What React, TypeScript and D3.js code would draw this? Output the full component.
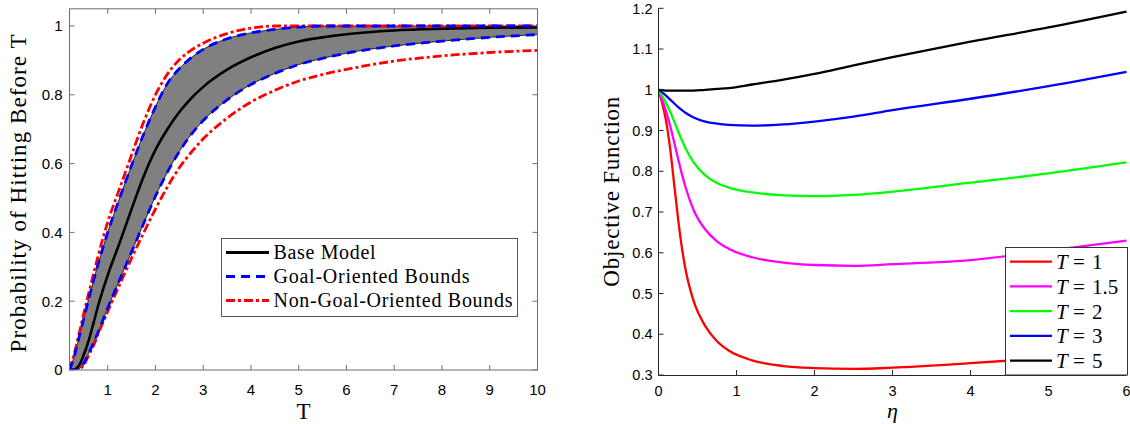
import { useEffect, useRef } from "react";
import * as d3 from "d3";

// ---- left panel: probability of hitting before T ----
const tValues = [0.2, 0.3, 0.4, 0.5, 0.6, 0.7, 0.8, 1, 1.25, 1.5, 1.75, 2, 2.25, 2.5, 2.75, 3, 3.5, 4, 4.5, 5, 5.5, 6, 7, 8, 9, 10];
const baseModel = [0, 0.001, 0.013, 0.045, 0.085, 0.135, 0.187, 0.275, 0.37, 0.468, 0.562, 0.64, 0.7, 0.75, 0.79, 0.823, 0.873, 0.909, 0.936, 0.955, 0.967, 0.976, 0.987, 0.992, 0.995, 0.996];
const upperGoal = [0, 0.04, 0.095, 0.15, 0.205, 0.258, 0.308, 0.4, 0.5, 0.595, 0.685, 0.765, 0.833, 0.876, 0.908, 0.932, 0.963, 0.98, 0.99, 0.997, 1, 1, 1, 1, 1, 1];
const lowerGoal = [0, 0, 0.003, 0.02, 0.048, 0.078, 0.11, 0.18, 0.262, 0.343, 0.425, 0.505, 0.575, 0.635, 0.685, 0.725, 0.785, 0.83, 0.862, 0.888, 0.906, 0.921, 0.942, 0.956, 0.967, 0.975];
const upperNonGoal = [0, 0.048, 0.105, 0.165, 0.222, 0.278, 0.332, 0.43, 0.528, 0.625, 0.72, 0.8, 0.86, 0.902, 0.93, 0.95, 0.978, 0.994, 1, 1, 1, 1, 1, 1, 1, 1];
const lowerNonGoal = [0, 0, 0.002, 0.015, 0.042, 0.07, 0.105, 0.17, 0.248, 0.325, 0.398, 0.468, 0.532, 0.588, 0.633, 0.672, 0.732, 0.779, 0.813, 0.84, 0.859, 0.874, 0.898, 0.913, 0.923, 0.929];
const leftXTicks = [1, 2, 3, 4, 5, 6, 7, 8, 9, 10];
const leftYTicks = [0, 0.2, 0.4, 0.6, 0.8, 1];
const leftLegend = ["Base Model", "Goal-Oriented Bounds", "Non-Goal-Oriented Bounds"];

// ---- right panel: objective function vs eta ----
const etaValues = [0, 0.05, 0.1, 0.15, 0.2, 0.25, 0.3, 0.35, 0.45, 0.6, 0.75, 0.9, 1.2, 1.6, 2, 2.5, 3, 4, 5, 6];
const objT1 = [1, 0.965, 0.92, 0.855, 0.77, 0.685, 0.612, 0.556, 0.482, 0.42, 0.383, 0.36, 0.336, 0.322, 0.317, 0.315, 0.318, 0.329, 0.342, 0.355];
const objT15 = [1, 0.974, 0.945, 0.911, 0.872, 0.832, 0.793, 0.759, 0.705, 0.657, 0.628, 0.61, 0.589, 0.576, 0.57, 0.568, 0.572, 0.582, 0.605, 0.63];
const objT2 = [1, 0.984, 0.966, 0.946, 0.923, 0.899, 0.876, 0.855, 0.822, 0.79, 0.771, 0.76, 0.748, 0.741, 0.739, 0.742, 0.75, 0.772, 0.795, 0.822];
const objT3 = [1, 0.993, 0.985, 0.976, 0.967, 0.958, 0.95, 0.943, 0.932, 0.922, 0.917, 0.914, 0.912, 0.915, 0.922, 0.934, 0.95, 0.978, 1.009, 1.044];
const objT5 = [1, 0.999, 0.998, 0.998, 0.998, 0.998, 0.998, 0.998, 0.998, 1, 1.002, 1.004, 1.013, 1.025, 1.039, 1.06, 1.08, 1.118, 1.153, 1.192];
const objSeries = [objT1, objT15, objT2, objT3, objT5];
const objLabels = ["1", "1.5", "2", "3", "5"];
const objColors = ["#ff0000", "#ff00ff", "#00ff00", "#0000ff", "#000000"];
const rightXTicks = [0, 1, 2, 3, 4, 5, 6];
const rightYTicks = [0.3, 0.4, 0.5, 0.6, 0.7, 0.8, 0.9, 1, 1.1, 1.2];

const serif = "'Liberation Serif', 'Times New Roman', serif";
const sans = "'Liberation Sans', Arial, Helvetica, sans-serif";

export default function App() {
  const ref = useRef(null);

  useEffect(() => {
    const svg = d3.select(ref.current);
    svg.selectAll("*").remove();

    // ================= left panel =================
    const lx = d3.scaleLinear([0.2, 10], [69.5, 537.5]);
    const ly = d3.scaleLinear([0, 1.05], [370, 8.8]);

    svg.append("clipPath").attr("id", "clipL")
      .append("rect").attr("x", lx(0.2)).attr("y", ly(1.05) - 2)
      .attr("width", lx(10) - lx(0.2)).attr("height", ly(0) - ly(1.05) + 2);

    const L = svg.append("g");
    const plotL = L.append("g").attr("clip-path", "url(#clipL)");

    const band = d3.area()
      .x((_, i) => lx(tValues[i]))
      .y0((_, i) => ly(lowerGoal[i]))
      .y1((_, i) => ly(upperGoal[i]))
      .curve(d3.curveMonotoneX);

    const lineL = arr => d3.line()
      .x((_, i) => lx(tValues[i]))
      .y(d => ly(d))
      .curve(d3.curveMonotoneX)(arr);

    plotL.append("path")
      .attr("d", band(tValues))
      .attr("fill", "#808080")
      .attr("stroke", "#000")
      .attr("stroke-width", 0.8);

    [upperNonGoal, lowerNonGoal].forEach(arr => {
      plotL.append("path").attr("d", lineL(arr))
        .attr("fill", "none").attr("stroke", "#ff0000")
        .attr("stroke-width", 2.8).attr("stroke-dasharray", "9,3,3,3");
    });
    plotL.append("path").attr("d", lineL(baseModel))
      .attr("fill", "none").attr("stroke", "#000").attr("stroke-width", 2.6);
    [upperGoal, lowerGoal].forEach(arr => {
      plotL.append("path").attr("d", lineL(arr))
        .attr("fill", "none").attr("stroke", "#0000ff")
        .attr("stroke-width", 2.8).attr("stroke-dasharray", "9,6");
    });

    // frame + ticks (inward, all four sides)
    const frameColor = "#6e6e6e";
    L.append("rect")
      .attr("x", lx(0.2)).attr("y", ly(1.05))
      .attr("width", lx(10) - lx(0.2)).attr("height", ly(0) - ly(1.05))
      .attr("fill", "none").attr("stroke", frameColor).attr("stroke-width", 1);
    leftXTicks.forEach(t => {
      L.append("line").attr("x1", lx(t)).attr("x2", lx(t))
        .attr("y1", ly(0)).attr("y2", ly(0) - 5).attr("stroke", frameColor);
      L.append("line").attr("x1", lx(t)).attr("x2", lx(t))
        .attr("y1", ly(1.05)).attr("y2", ly(1.05) + 5).attr("stroke", frameColor);
      L.append("text").attr("x", lx(t)).attr("y", ly(0) + 25)
        .attr("text-anchor", "middle").attr("font-family", sans).attr("font-size", 15)
        .attr("fill", "#000").text(String(t));
    });
    leftYTicks.forEach(v => {
      L.append("line").attr("x1", lx(0.2)).attr("x2", lx(0.2) + 5)
        .attr("y1", ly(v)).attr("y2", ly(v)).attr("stroke", frameColor);
      L.append("line").attr("x1", lx(10)).attr("x2", lx(10) - 5)
        .attr("y1", ly(v)).attr("y2", ly(v)).attr("stroke", frameColor);
      L.append("text").attr("x", lx(0.2) - 7).attr("y", ly(v)).attr("dy", "0.36em")
        .attr("text-anchor", "end").attr("font-family", sans).attr("font-size", 15)
        .attr("fill", "#000").text(String(v));
    });

    L.append("text").attr("x", (lx(0.2) + lx(10)) / 2).attr("y", 419)
      .attr("text-anchor", "middle").attr("font-family", serif).attr("font-size", 23)
      .text("T");
    L.append("text")
      .attr("transform", `translate(26,${(ly(0) + ly(1.05)) / 2 + 4}) rotate(-90)`)
      .attr("text-anchor", "middle").attr("font-family", serif).attr("font-size", 23)
      .attr("textLength", 318).attr("lengthAdjust", "spacing")
      .text("Probability of Hitting Before T");

    // legend
    const lg = L.append("g");
    lg.append("rect").attr("x", 221.5).attr("y", 238.5).attr("width", 296).attr("height", 78)
      .attr("fill", "#fff").attr("stroke", "#555").attr("stroke-width", 1);
    const legStyles = [
      { color: "#000", dash: null },
      { color: "#0000ff", dash: "9,6" },
      { color: "#ff0000", dash: "9,3,3,3" }
    ];
    const legWidths = [102, 196, 239];
    leftLegend.forEach((label, i) => {
      const yy = 252.5 + i * 24;
      lg.append("line").attr("x1", 226).attr("x2", 269).attr("y1", yy).attr("y2", yy)
        .attr("stroke", legStyles[i].color).attr("stroke-width", 2.8)
        .attr("stroke-dasharray", legStyles[i].dash);
      lg.append("text").attr("x", 273.5).attr("y", yy).attr("dy", "0.33em")
        .attr("font-family", serif).attr("font-size", 20)
        .attr("textLength", legWidths[i]).attr("lengthAdjust", "spacing")
        .text(label);
    });

    // ================= right panel =================
    const rx = d3.scaleLinear([0, 6], [658.5, 1126.5]);
    const ry = d3.scaleLinear([0.3, 1.2], [375, 8.3]);
    const R = svg.append("g");

    svg.append("clipPath").attr("id", "clipR")
      .append("rect").attr("x", rx(0)).attr("y", ry(1.2))
      .attr("width", rx(6) - rx(0) + 2).attr("height", ry(0.3) - ry(1.2));

    const plotR = R.append("g").attr("clip-path", "url(#clipR)");
    const lineR = arr => d3.line()
      .x((_, i) => rx(etaValues[i]))
      .y(d => ry(d))
      .curve(d3.curveMonotoneX)(arr);

    objSeries.forEach((arr, k) => {
      plotR.append("path").attr("d", lineR(arr))
        .attr("fill", "none").attr("stroke", objColors[k]).attr("stroke-width", 2.3);
    });

    const axisColor = "#262626";
    R.append("line").attr("x1", rx(0)).attr("x2", rx(0)).attr("y1", ry(1.2)).attr("y2", ry(0.3) + 0.5)
      .attr("stroke", axisColor);
    R.append("line").attr("x1", rx(0)).attr("x2", rx(6)).attr("y1", ry(0.3) + 0.5).attr("y2", ry(0.3) + 0.5)
      .attr("stroke", axisColor);
    rightXTicks.forEach(e => {
      R.append("line").attr("x1", rx(e)).attr("x2", rx(e))
        .attr("y1", ry(0.3)).attr("y2", ry(0.3) - 5).attr("stroke", axisColor);
      R.append("text").attr("x", rx(e)).attr("y", 396)
        .attr("text-anchor", "middle").attr("font-family", sans).attr("font-size", 14.5)
        .text(String(e));
    });
    rightYTicks.forEach(v => {
      R.append("line").attr("x1", rx(0)).attr("x2", rx(0) + 5)
        .attr("y1", ry(v)).attr("y2", ry(v)).attr("stroke", axisColor);
      R.append("text").attr("x", rx(0) - 6).attr("y", ry(v)).attr("dy", "0.36em")
        .attr("text-anchor", "end").attr("font-family", sans).attr("font-size", 14.5)
        .text(String(v));
    });

    R.append("text").attr("x", (rx(0) + rx(6)) / 2).attr("y", 418)
      .attr("text-anchor", "middle").attr("font-family", serif).attr("font-style", "italic")
      .attr("font-size", 22).text("η");
    R.append("text")
      .attr("transform", `translate(619,${(ry(0.3) + ry(1.2)) / 2}) rotate(-90)`)
      .attr("text-anchor", "middle").attr("font-family", serif).attr("font-size", 23)
      .attr("textLength", 190).attr("lengthAdjust", "spacing")
      .text("Objective Function");

    // legend
    const rl = R.append("g");
    rl.append("rect").attr("x", 1005.5).attr("y", 247.5).attr("width", 122).attr("height", 127.5)
      .attr("fill", "#fff").attr("stroke", "#333").attr("stroke-width", 1);
    objLabels.forEach((lab, k) => {
      const yy = 261.7 + k * 24.75;
      rl.append("line").attr("x1", 1010).attr("x2", 1052).attr("y1", yy).attr("y2", yy)
        .attr("stroke", objColors[k]).attr("stroke-width", 2.3);
      const tx = rl.append("text").attr("y", yy).attr("dy", "0.35em")
        .attr("font-family", serif).attr("font-size", 21);
      tx.append("tspan").attr("x", 1056).attr("font-style", "italic").text("T");
      tx.append("tspan").attr("x", 1073).text("=");
      tx.append("tspan").attr("x", 1092).text(lab);
    });
  }, []);

  return (
    <svg
      ref={ref}
      width={1130}
      height={424}
      style={{ position: "absolute", left: 0, top: 0, background: "#fff" }}
    />
  );
}
